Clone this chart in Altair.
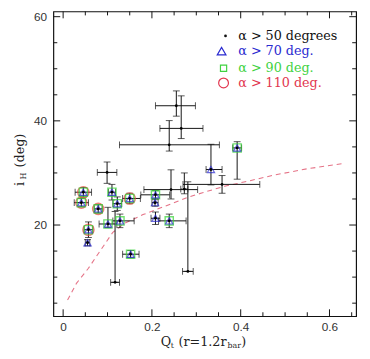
import altair as alt
import pandas as pd

# ---- data ----
q     = [0.255, 0.266, 0.239, 0.333, 0.392, 0.358, 0.099, 0.0455, 0.041, 0.110, 0.079, 0.122, 0.117,
         0.281, 0.150, 0.101, 0.128, 0.057, 0.055, 0.208, 0.207, 0.208, 0.239, 0.243, 0.273, 0.152]
ih    = [42.9, 38.55, 35.4, 30.66, 34.8, 27.8, 30.1, 26.3, 24.3, 26.3, 23.1, 24.1, 9.0,
         11.1, 25.1, 20.2, 20.8, 19.1, 16.6, 25.8, 24.3, 21.3, 20.8, 26.8, 26.9, 14.4]
q_lo  = [0.208, 0.218, 0.127, 0.322, 0.382, 0.270, 0.077, 0.027, 0.025, 0.102, 0.070, 0.112, 0.107,
         0.269, 0.134, 0.081, 0.112, 0.047, 0.050, 0.175, 0.200, 0.198, 0.215, 0.182, 0.265, 0.134]
q_hi  = [0.298, 0.315, 0.352, 0.358, 0.402, 0.443, 0.121, 0.064, 0.057, 0.118, 0.088, 0.132, 0.127,
         0.293, 0.174, 0.121, 0.160, 0.067, 0.060, 0.240, 0.214, 0.218, 0.277, 0.303, 0.281, 0.171]
ih_lo = [40.9, 36.6, 34.2, 27.7, 28.8, 26.1, 28.0, 25.4, 23.5, 24.8, 22.3, 22.8, 9.0,
         11.1, 24.1, 19.5, 19.5, 17.6, 16.0, 25.0, 23.6, 20.1, 19.5, 25.0, 26.0, 13.7]
ih_hi = [45.75, 44.8, 40.05, 35.5, 36.0, 29.5, 32.1, 27.2, 25.1, 27.8, 23.9, 25.4, 22.6,
         28.3, 26.1, 23.4, 22.1, 20.6, 17.2, 26.6, 25.0, 22.5, 22.1, 30.6, 30.0, 15.1]
alpha = [50, 50, 50, 70, 90, 50, 50, 110, 110, 90, 110, 90, 50,
         50, 110, 90, 90, 110, 70, 90, 70, 70, 90, 50, 50, 90]

curve_q  = [0.010, 0.030, 0.057, 0.079, 0.112, 0.138, 0.180, 0.220, 0.280, 0.314, 0.366, 0.410, 0.476, 0.550, 0.631]
curve_ih = [5.6, 8.8, 11.7, 14.5, 18.6, 20.3, 22.0, 23.3, 25.3, 26.2, 27.5, 28.3, 29.6, 30.8, 31.8]

x_major = [0, 0.2, 0.4, 0.6]
x_minor = [0.05, 0.1, 0.15, 0.25, 0.3, 0.35, 0.45, 0.5, 0.55, 0.65]
y_major = [20, 40, 60]
y_minor = [5, 10, 15, 25, 30, 35, 45, 50, 55]

legend_labels = ["\u03b1 > 50 degrees", "\u03b1 > 70 deg.", "\u03b1 > 90 deg.", "\u03b1 > 110 deg."]
legend_colors = ["#111111", "#2a2ad0", "#3fd23f", "#e2364f"]
legend_shapes = ["circle", "triangle-up", "square", "circle"]

xtitle_parts = ["Q", "t", "(r=1.2r", "bar", ")"]
ytitle_parts = ["(deg)", "i", "H"]

W, H = 309, 311
SERIF = "DejaVu Serif"
SANS = "Liberation Sans"

df = pd.DataFrame(dict(q=q, ih=ih, q_lo=q_lo, q_hi=q_hi, ih_lo=ih_lo, ih_hi=ih_hi, alpha=alpha))
curve = pd.DataFrame(dict(q=curve_q, ih=curve_ih))

xs = alt.Scale(domain=[-0.022, 0.66], nice=False, zero=False)
ys = alt.Scale(domain=[2.5, 61.0], nice=False, zero=False)

x_axis = alt.Axis(values=x_major, format=".1~f", grid=False, domain=False, ticks=False,
                  tickSize=0, labelPadding=6, title="")
y_axis = alt.Axis(values=y_major, format="d", grid=False, domain=False, ticks=False,
                  tickSize=0, labelPadding=7, title="")

base = alt.Chart(df)

def X(f):
    return alt.X(f, type="quantitative", scale=xs, axis=x_axis, title="")

def Y(f):
    return alt.Y(f, type="quantitative", scale=ys, axis=y_axis, title="")

layers = []

# dashed curve
layers.append(alt.Chart(curve).mark_line(color="#e05a72", strokeDash=[5, 4], strokeWidth=1.1, opacity=0.85)
              .encode(x=X("q"), y=Y("ih")))

# error bars
layers.append(base.mark_rule(color="#111", strokeWidth=1).encode(x=X("q_lo"), x2="q_hi", y=Y("ih")))
layers.append(base.mark_rule(color="#111", strokeWidth=1).encode(x=X("q"), y=Y("ih_lo"), y2="ih_hi"))
for f in ["q_lo", "q_hi"]:
    layers.append(base.mark_tick(orient="vertical", size=7, thickness=1, color="#111")
                  .encode(x=X(f), y=Y("ih")))
for f in ["ih_lo", "ih_hi"]:
    layers.append(base.mark_tick(orient="horizontal", size=7, thickness=1, color="#111")
                  .encode(x=X("q"), y=Y(f)))

# markers
layers.append(base.transform_filter("datum.alpha >= 110")
              .mark_point(shape="circle", size=130, filled=False, color="#e8483c", strokeWidth=1.4)
              .encode(x=X("q"), y=Y("ih")))
layers.append(base.transform_filter("datum.alpha >= 90")
              .mark_point(shape="square", size=70, filled=False, color="#35d435", strokeWidth=1.4)
              .encode(x=X("q"), y=Y("ih")))
layers.append(base.transform_filter("datum.alpha >= 70")
              .mark_point(shape="triangle-up", size=55, filled=False, color="#2a2ad0", strokeWidth=1.2)
              .encode(x=X("q"), y=Y("ih")))
layers.append(base.mark_point(shape="circle", size=8, filled=True, color="#000", opacity=1)
              .encode(x=X("q"), y=Y("ih")))

# inward ticks on all four sides
def yticks(vals, L):
    d = alt.Chart(pd.DataFrame({"v": vals}))
    return [d.mark_rule(color="#111", strokeWidth=1).encode(y=Y("v"), x=alt.value(0), x2=alt.value(L)),
            d.mark_rule(color="#111", strokeWidth=1).encode(y=Y("v"), x=alt.value(W - L), x2=alt.value(W))]

def xticks(vals, L):
    d = alt.Chart(pd.DataFrame({"v": vals}))
    return [d.mark_rule(color="#111", strokeWidth=1).encode(x=X("v"), y=alt.value(H), y2=alt.value(H - L)),
            d.mark_rule(color="#111", strokeWidth=1).encode(x=X("v"), y=alt.value(0), y2=alt.value(L))]

layers += yticks(y_major, 7) + yticks(y_minor, 4) + xticks(x_major, 7) + xticks(x_minor, 4)

# legend (inside, top right)
OX, OY = 54.3, 8
leg_y = [33, 48.5, 66, 81]
leg_sym_x = [230, 226, 228, 228]
leg_sizes = [8, 80, 40, 100]
for k in range(4):
    filled = k == 0
    layers.append(alt.Chart(pd.DataFrame({"lab": [legend_labels[k]]}))
                  .mark_point(shape=legend_shapes[k], size=leg_sizes[k], filled=filled,
                              color=legend_colors[k], strokeWidth=1.2, opacity=1)
                  .encode(x=alt.value(leg_sym_x[k] - OX), y=alt.value(leg_y[k] - OY)))
    layers.append(alt.Chart(pd.DataFrame({"lab": [legend_labels[k]]}))
                  .mark_text(align="left", baseline="middle", font=SERIF, fontSize=13,
                             color=legend_colors[k])
                  .encode(text="lab:N", x=alt.value(243 - OX), y=alt.value(leg_y[k] - OY)))

# axis titles composed of parts (for subscripts)
def txt(s, x, y, size, angle=0, align="left"):
    return (alt.Chart(pd.DataFrame({"s": [s]}))
            .mark_text(align=align, baseline="middle", font=SERIF, fontSize=size, color="#222",
                       angle=angle)
            .encode(text="s:N", x=alt.value(x - OX), y=alt.value(y - OY)))

layers.append(txt(xtitle_parts[0], 164, 345, 13))
layers.append(txt(xtitle_parts[1], 174, 349, 8))
layers.append(txt(xtitle_parts[2], 182, 345, 13))
layers.append(txt(xtitle_parts[3], 232, 349, 8))
layers.append(txt(xtitle_parts[4], 246, 345, 13))

layers.append(txt(ytitle_parts[0], 20, 150, 13, angle=270, align="center"))
layers.append(txt(ytitle_parts[1], 20, 184, 13, angle=270, align="center"))
layers.append(txt(ytitle_parts[2], 24, 176, 8, angle=270, align="center"))

chart = (alt.layer(*layers)
         .properties(width=W, height=H, autosize=alt.AutoSizeParams(type="none"),
                     padding={"left": 46.3, "top": 0, "right": 6, "bottom": 32},
                     background="white")
         .configure_view(stroke="#111", strokeWidth=1.2)
         .configure_axis(labelFont=SANS, labelFontSize=12, labelColor="#333"))

chart.save("out.html", embed_options={"renderer": "svg", "actions": False})
